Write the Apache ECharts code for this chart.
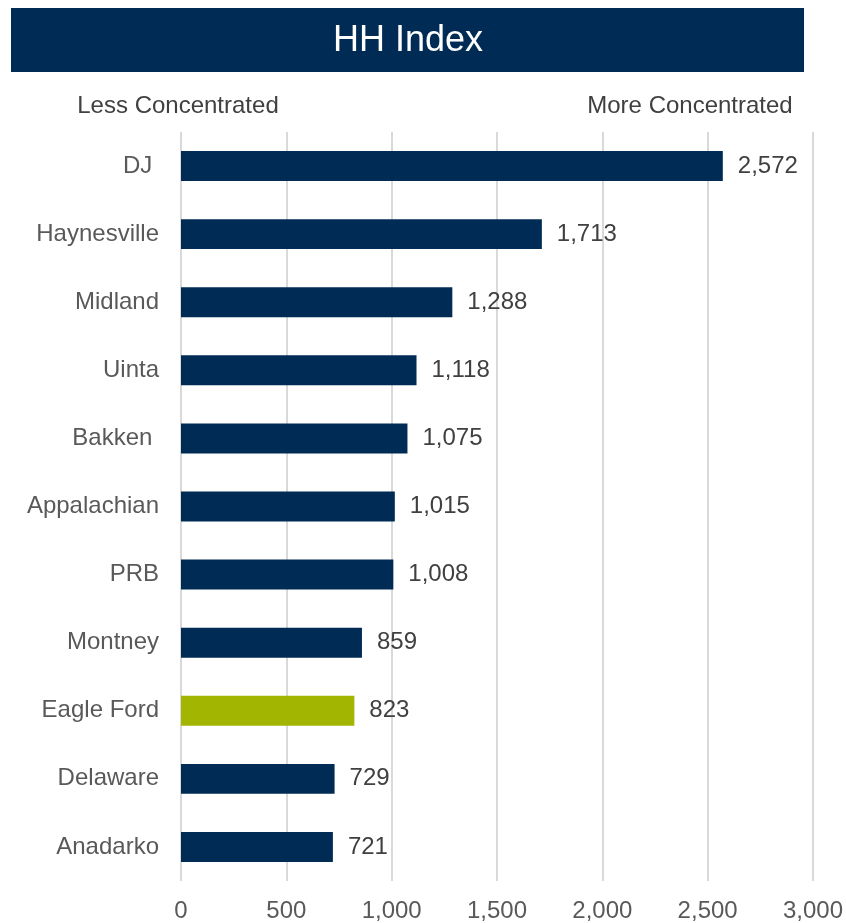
<!DOCTYPE html>
<html>
<head>
<meta charset="utf-8">
<script src="https://cdn.jsdelivr.net/npm/echarts@6/dist/echarts.min.js"></script>
<style>
  html, body { margin: 0; padding: 0; background: #ffffff; }
  #chart { width: 846px; height: 923px; }
</style>
</head>
<body>
<div id="chart"></div>
<script>
// Basin names, top to bottom
const basins = ['DJ ', 'Haynesville', 'Midland', 'Uinta', 'Bakken ', 'Appalachian', 'PRB', 'Montney', 'Eagle Ford', 'Delaware', 'Anadarko'];
// Herfindahl-Hirschman index per basin
const hhiValues = [2572, 1713, 1288, 1118, 1075, 1015, 1008, 859, 823, 729, 721];
// Basin shown in the accent colour
const highlightBasin = 'Eagle Ford';
const axisTicks = [0, 500, 1000, 1500, 2000, 2500, 3000];

const NAVY = '#002B54';
const GREEN = '#A2B500';
const FONT = '"Liberation Sans", Arial, sans-serif';

const chart = echarts.init(document.getElementById('chart'), null, { renderer: 'canvas' });

chart.setOption({
  backgroundColor: '#ffffff',
  animation: false,
  graphic: [
    {
      type: 'rect',
      shape: { x: 11, y: 8, width: 793, height: 64 },
      style: { fill: NAVY }
    },
    {
      type: 'text',
      x: 408, y: 41,
      style: {
        text: 'HH Index', fill: '#ffffff', font: '36px ' + FONT,
        textAlign: 'center', textVerticalAlign: 'middle'
      }
    },
    {
      type: 'text',
      x: 178, y: 106,
      style: {
        text: 'Less Concentrated', fill: '#404040', font: '24px ' + FONT,
        textAlign: 'center', textVerticalAlign: 'middle'
      }
    },
    {
      type: 'text',
      x: 690, y: 106,
      style: {
        text: 'More Concentrated', fill: '#404040', font: '24px ' + FONT,
        textAlign: 'center', textVerticalAlign: 'middle'
      }
    }
  ],
  grid: { left: 181, right: 29, top: 132, bottom: 39, containLabel: false },
  xAxis: {
    type: 'value',
    min: axisTicks[0],
    max: axisTicks[axisTicks.length - 1],
    interval: axisTicks[1] - axisTicks[0],
    axisLine: { show: false },
    axisTick: { show: false },
    splitLine: { show: true, lineStyle: { color: '#D9D9D9', width: 2 } },
    axisLabel: {
      margin: 18,
      color: '#595959',
      fontSize: 24,
      fontFamily: FONT,
      formatter: v => v.toLocaleString('en-US')
    }
  },
  yAxis: {
    type: 'category',
    inverse: true,
    data: basins,
    axisLine: { show: false },
    axisTick: { show: false },
    axisLabel: {
      margin: 22,
      color: '#595959',
      fontSize: 24,
      fontFamily: FONT
    }
  },
  series: [{
    type: 'bar',
    barWidth: '44%',
    data: hhiValues.map((v, i) => ({
      value: v,
      itemStyle: { color: basins[i] === highlightBasin ? GREEN : NAVY }
    })),
    label: {
      show: true,
      position: 'right',
      distance: 15,
      color: '#404040',
      fontSize: 24,
      fontFamily: FONT,
      formatter: p => p.value.toLocaleString('en-US')
    }
  }]
});
</script>
</body>
</html>
